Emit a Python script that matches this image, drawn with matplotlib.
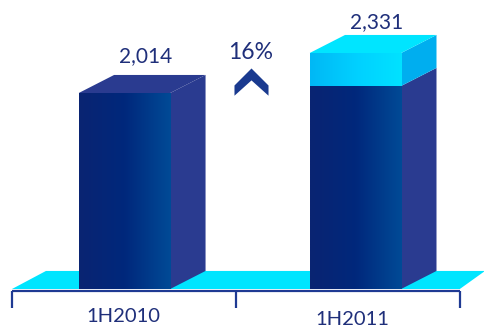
import matplotlib
matplotlib.use("Agg")
import matplotlib.pyplot as plt
import numpy as np
from matplotlib.colors import LinearSegmentedColormap
from matplotlib.patches import Polygon
from matplotlib.path import Path

# =========================================================
# DATA
# =========================================================
categories = ["1H2010", "1H2011"]
values = [2014, 2331]
value_labels = ["2,014", "2,331"]
# 1H2011 bar changes colour at about this level
lower_part = [2014, 2070]
growth_label = "16%"

# =========================================================
# STYLE
# =========================================================
NAVY = "#1F2F7A"
SIDE = "#2A3B90"
CYAN = "#00E5FF"
CYAN_SIDE = "#00AEEF"
AXIS = "#1F3A93"
BASE = 461       # the drawn bars sit on a cut axis
BAR_W = 0.396
DX = 0.153       # depth of the 3d effect, x units
DY = 143         # depth of the 3d effect, y units

dark_grad = LinearSegmentedColormap.from_list("dark", ["#0A2472", "#00287C", "#004A96"])
cyan_grad = LinearSegmentedColormap.from_list("cyan", ["#00B8F5", "#00D0FF", "#00E2FF"])


def front(ax, x, y0, y1, cmap):
    grad = np.linspace(0, 1, 64).reshape(1, -1)
    ax.imshow(grad, cmap=cmap, aspect="auto", zorder=3, interpolation="bilinear",
              extent=(x - BAR_W / 2, x + BAR_W / 2, y0, y1))


def poly(ax, pts, color, z=3):
    ax.add_patch(Polygon(pts, closed=True, facecolor=color, edgecolor="none", zorder=z))


def draw_bar(ax, x, total, lower):
    l, r = x - BAR_W / 2, x + BAR_W / 2
    # side of the lower part
    poly(ax, [(r, BASE), (r + DX, BASE + DY), (r + DX, lower + DY), (r, lower)], SIDE)
    front(ax, x, BASE, lower, dark_grad)
    if total > lower:
        poly(ax, [(r, lower), (r + DX, lower + DY), (r + DX, total + DY), (r, total)], CYAN_SIDE)
        front(ax, x, lower, total, cyan_grad)
        top = CYAN
    else:
        top = SIDE
    poly(ax, [(l, total), (l + DX, total + DY), (r + DX, total + DY), (r, total)], top)


def main():
    fig = plt.figure(figsize=(4.85, 3.29), dpi=100)
    ax = fig.add_axes([0, 0, 1, 1])
    ax.axis("off")

    # floor
    edges = [-0.487, 0.483, 1.452]
    poly(ax, [(edges[0], BASE), (edges[0] + 0.147, BASE + DY),
              (1.561, BASE + DY), (edges[2], BASE)], CYAN, z=1)

    # bracket under the floor
    line_y = BASE - 14
    ax.plot([edges[0], edges[2]], [line_y, line_y], color=AXIS, lw=1.6, zorder=2,
            solid_capstyle="butt")
    for e in edges:
        ax.plot([e, e], [line_y, BASE - 150], color=AXIS, lw=1.6, zorder=2,
                solid_capstyle="butt")

    for i, cat in enumerate(categories):
        draw_bar(ax, i, values[i], lower_part[i])
        ax.text(i + 0.09, values[i] + DY + [150, 105][i], value_labels[i], color=NAVY,
                fontsize=15, family="Lato", ha="center", va="center")
        ax.text(i - 0.003 - 0.01 * i, BASE - 215 - 24 * i, cat, color=NAVY,
                fontsize=14.5, family="Lato", ha="center", va="center")

    # growth arrow
    ax.text(0.548, 2335, growth_label, color=NAVY, fontsize=16.5, family="Lato",
            ha="center", va="center")
    chevron = Path([(0, 1), (1, 0), (1, -0.6), (0, 0.3), (-1, -0.6), (-1, 0), (0, 1)], closed=True)
    ax.plot([0.548], [2077], marker=chevron, ms=24.5, color="#1A3A8F", mew=0, zorder=3)

    ax.set_xlim(-0.539, 1.561)
    ax.set_ylim(144, 2751)
    fig.savefig("out.png", dpi=100)
    plt.close(fig)


if __name__ == "__main__":
    main()
